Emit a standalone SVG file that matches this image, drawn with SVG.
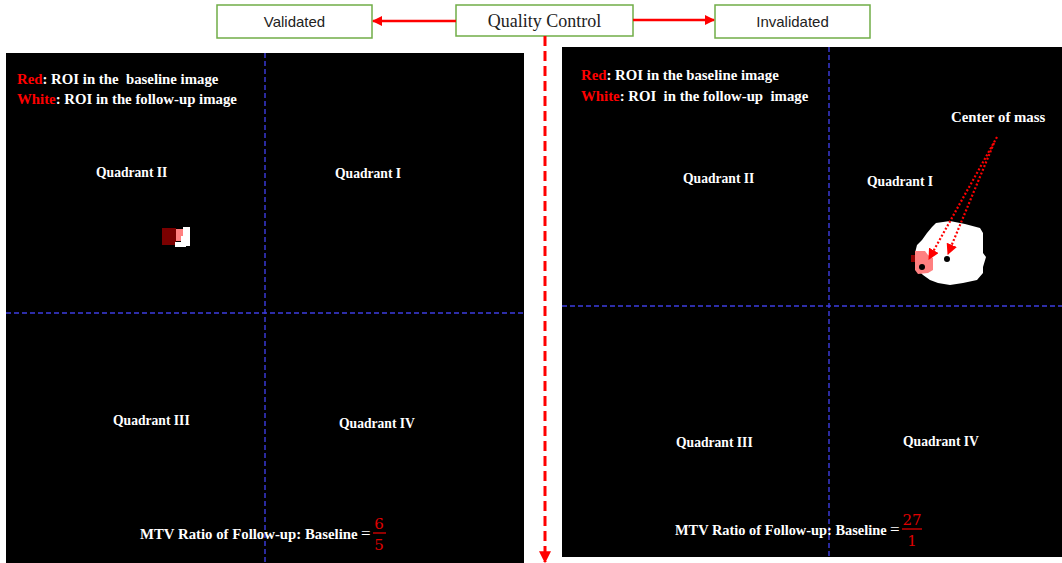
<svg xmlns="http://www.w3.org/2000/svg" width="1062" height="563" viewBox="0 0 1062 563">
<style>
.box{fill:#fff;stroke:#70ad47;stroke-width:1.5}
.bl{font-family:"Liberation Sans",Arial,sans-serif;font-size:15px;fill:#222}
.qc{font-family:"Liberation Serif","Times New Roman",serif;font-size:18px;fill:#222}
.w{font-family:"Liberation Serif","Times New Roman",serif;font-weight:bold;font-size:14.8px;fill:#fff;white-space:pre}
.m{font-family:"Liberation Serif","Times New Roman",serif;font-weight:bold;font-size:14.8px;fill:#fff}
.eq{font-family:"Liberation Serif","Times New Roman",serif;font-size:17px;fill:#fff}
.q{font-family:"Liberation Serif","Times New Roman",serif;font-weight:bold;font-size:13.6px;fill:#fff}
.r{fill:#ff0000}
.fr{font-family:"DejaVu Serif","Liberation Serif",serif;font-size:15px;fill:#e00000;text-anchor:middle}
.blue{stroke:#3c3ce0;stroke-width:1.4;stroke-dasharray:5 3;fill:none}
.arr{stroke:#ff0000;stroke-width:2.5;fill:none}
.dot{stroke:#ff0000;stroke-width:2.2;stroke-dasharray:2 2;fill:none}
</style>
<defs>
<marker id="ah" viewBox="0 0 10 10" refX="9" refY="5" markerWidth="4" markerHeight="4" orient="auto" markerUnits="strokeWidth"><path d="M0,0 L10,5 L0,10 z" fill="#ff0000"/></marker>
<marker id="ah2" viewBox="0 0 10 10" refX="9" refY="5" markerWidth="5" markerHeight="5" orient="auto" markerUnits="strokeWidth"><path d="M0,0 L10,5 L0,10 z" fill="#ff0000"/></marker>
</defs>
<rect width="1062" height="563" fill="#fff"/>

<g id="panel-left">
<rect x="6" y="53" width="518" height="510" fill="#000"/>
<line class="blue" x1="265" y1="53" x2="265" y2="563"/>
<line class="blue" x1="6" y1="313" x2="524" y2="313"/>
<text class="w" x="17" y="84"><tspan class="r">Red</tspan>: ROI in the  baseline image</text>
<text class="w" x="17" y="104"><tspan class="r">White</tspan>: ROI in the follow-up image</text>
<text class="q" x="96" y="177">Quadrant II</text>
<text class="q" x="335" y="178">Quadrant I</text>
<text class="q" x="113" y="425">Quadrant III</text>
<text class="q" x="339" y="428">Quadrant IV</text>
<rect x="162" y="228" width="14" height="17" fill="#7a0000"/>
<polygon points="176,229 183,229 183,236 181,236 181,241 176,241" fill="#ff8080"/>
<polygon points="183,227 190,227 190,246 186,246 186,247 175,247 175,242 181,242 181,236 183,236" fill="#fff"/>
<text class="m" x="140" y="539">MTV Ratio of Follow-up: Baseline</text>
<text class="eq" x="361" y="539">=</text>
<text class="fr" x="379" y="529">6</text>
<line x1="373" y1="533" x2="386" y2="533" stroke="#e00000" stroke-width="1.3"/>
<text class="fr" x="379" y="550">5</text>
</g>

<g id="panel-right">
<rect x="562" y="47" width="500" height="510" fill="#000"/>
<line class="blue" x1="829" y1="47" x2="829" y2="557"/>
<line class="blue" x1="562" y1="306" x2="1062" y2="306"/>
<text class="w" x="581" y="80"><tspan class="r">Red</tspan>: ROI in the baseline image</text>
<text class="w" x="581" y="101"><tspan class="r">White</tspan>: ROI  in the follow-up  image</text>
<text class="q" x="683" y="183">Quadrant II</text>
<text class="q" x="867" y="186">Quadrant I</text>
<text class="q" x="676" y="447">Quadrant III</text>
<text class="q" x="903" y="446">Quadrant IV</text>
<text class="w" x="951" y="122">Center of mass</text>
<polygon points="936,223 950,221 965,224 980,228 983,233 983,253 986,257 983,267 983,273 977,280 963,283 950,285 938,283 930,280 923,275 918,270 917,260 915,253 917,245 922,240 927,233 932,227" fill="#fff"/>
<rect x="911" y="255" width="5" height="7" fill="#8a0000"/>
<polygon points="915,251 925,251 928,255 933,258 933,270 928,273 918,274 915,270" fill="#ff8080"/>
<circle cx="922" cy="267" r="3" fill="#000"/>
<circle cx="947" cy="259" r="3" fill="#000"/>
<text class="m" x="675" y="535" style="font-size:14.4px">MTV Ratio of Follow-up: Baseline</text>
<text class="eq" x="890" y="535">=</text>
<text class="fr" x="912" y="525">27</text>
<line x1="902" y1="529" x2="922" y2="529" stroke="#e00000" stroke-width="1.3"/>
<text class="fr" x="912" y="546">1</text>
</g>

<g id="node-validated"><rect class="box" x="217" y="5" width="155" height="33"/><text class="bl" x="294.5" y="27" text-anchor="middle">Validated</text></g>
<g id="node-qc"><rect class="box" x="456" y="5" width="177" height="31"/><text class="qc" x="544.5" y="27" text-anchor="middle">Quality Control</text></g>
<g id="node-invalidated"><rect class="box" x="715" y="5" width="155" height="33"/><text class="bl" x="792.5" y="27" text-anchor="middle">Invalidated</text></g>

<g id="connectors">
<line class="arr" x1="456" y1="21" x2="373" y2="21" marker-end="url(#ah)"/>
<line class="arr" x1="633" y1="20" x2="714" y2="20" marker-end="url(#ah)"/>
<line x1="545" y1="36" x2="545" y2="562" stroke="#ff0000" stroke-width="3" stroke-dasharray="10 5" marker-end="url(#ah)"/>
<line class="dot" x1="997" y1="137" x2="929" y2="259" marker-end="url(#ah2)"/>
<line class="dot" x1="994" y1="143" x2="948" y2="254" marker-end="url(#ah2)"/>
</g>
</svg>
